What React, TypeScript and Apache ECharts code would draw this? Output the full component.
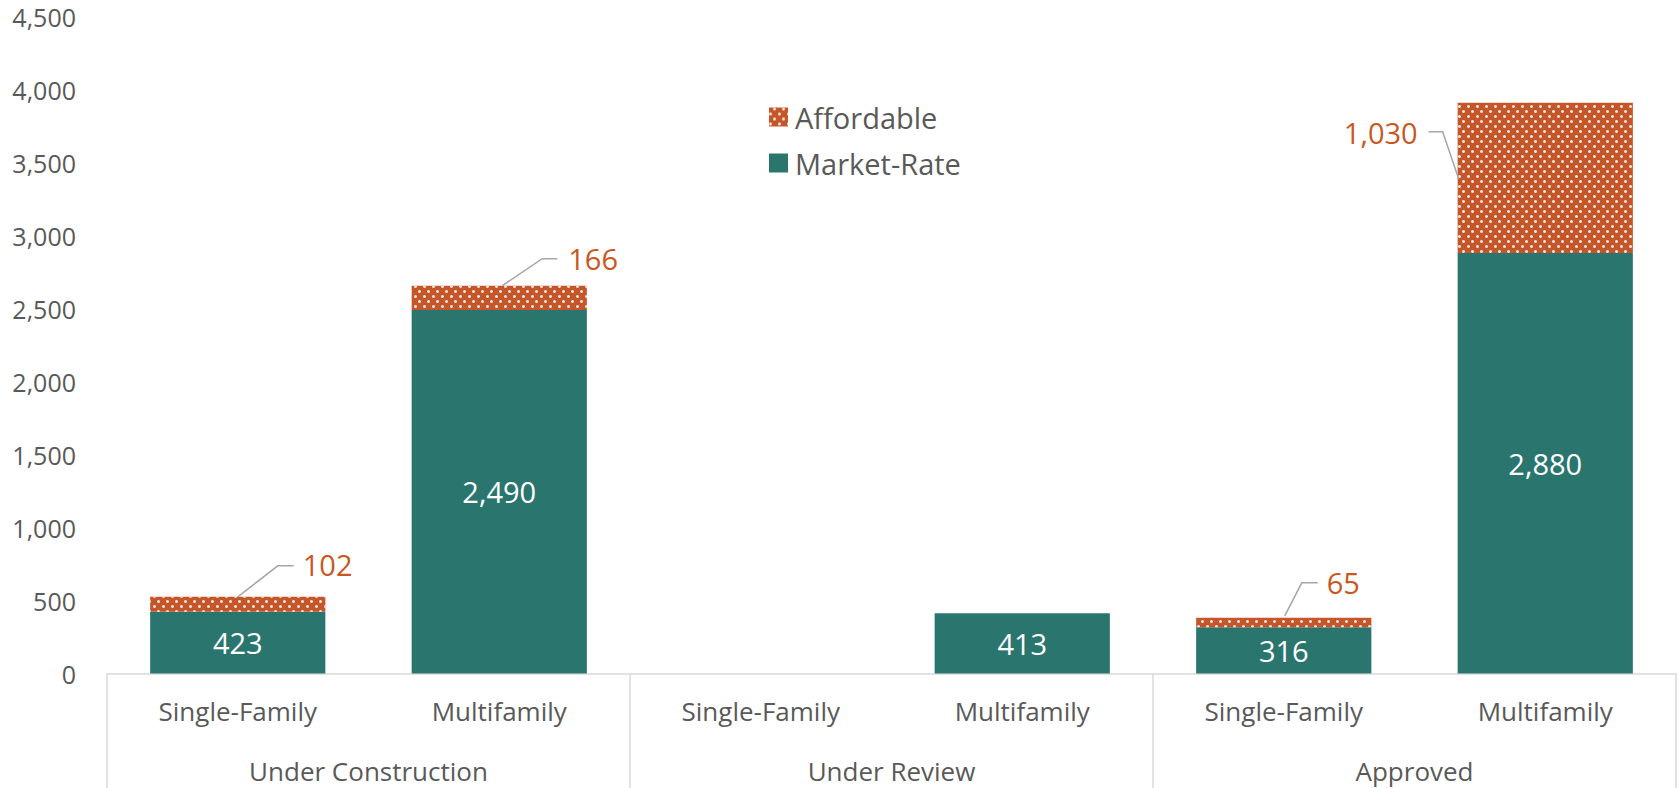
import React, { useEffect, useRef } from "react";
import * as echarts from "echarts";

const subCategories = ["Single-Family", "Multifamily", "Single-Family", "Multifamily", "Single-Family", "Multifamily"];
const groupCategories = ["Under Construction", "Under Review", "Approved"];
const marketRate = [423, 2490, 0, 413, 316, 2880];
const affordable = [102, 166, 0, 0, 65, 1030];
const yTicks = { min: 0, max: 4500, interval: 500 };

// leader-line layout for affordable labels (pixel offsets from the bar-top anchor)
const leaderLayout: any[] = [
  { anchor: "center", points: [[0, 0], [40, -31], [56, -31]], text: [65, -32], align: "left" },
  { anchor: "center", points: [[3, 0], [43, -27], [58, -27]], text: [69, -27], align: "left" },
  null,
  null,
  { anchor: "center", points: [[1, -2], [18, -35], [34, -35]], text: [43, -35], align: "left" },
  { anchor: "left", points: [[1, 76], [-15, 29], [-29, 29]], text: [-40, 30], align: "right" },
];

const TEAL = "#2A766F";
const ORANGE = "#C5562A";
const LABEL_ORANGE = "#C8581F";
const GRAY_TEXT = "#595959";
const AXIS_GRAY = "#D9D9D9";
const FONT = "'Open Sans', 'Noto Sans', sans-serif";
const BAR_GAP = 0.33;

const fmt = (v: number) => v.toLocaleString("en-US");

export default function App() {
  const ref = useRef<HTMLDivElement>(null);
  useEffect(() => {
    if (!ref.current) return;
    const chart = echarts.init(ref.current, undefined, { renderer: "svg" });
    const leaderData = subCategories.map((_, i) => [i, marketRate[i] + affordable[i], affordable[i]]);
    chart.setOption({
      animation: false,
      textStyle: { fontFamily: FONT },
      grid: { left: 107, right: 3, top: 16.5, bottom: 114.5, containLabel: false },
      legend: {
        orient: "vertical",
        left: 764,
        top: 97,
        data: ["Affordable", "Market-Rate"],
        icon: "rect",
        itemWidth: 19,
        itemHeight: 19,
        itemGap: 16,
        textStyle: { fontSize: 29, color: GRAY_TEXT, fontFamily: FONT, lineHeight: 30, padding: [0, 0, 0, 2] },
      },
      xAxis: [
        {
          type: "category",
          data: subCategories,
          position: "bottom",
          axisLine: { show: true, lineStyle: { color: AXIS_GRAY, width: 1.5 } },
          axisTick: { show: false },
          axisLabel: { fontSize: 26, color: GRAY_TEXT, fontFamily: FONT, margin: 24, interval: 0 },
        },
        {
          type: "category",
          data: groupCategories,
          position: "bottom",
          axisLine: { show: false },
          axisTick: { show: true, length: 115, lineStyle: { color: AXIS_GRAY, width: 1.5 } },
          axisLabel: { fontSize: 26, color: GRAY_TEXT, fontFamily: FONT, margin: 84, interval: 0 },
        },
      ],
      yAxis: {
        type: "value",
        min: yTicks.min,
        max: yTicks.max,
        interval: yTicks.interval,
        axisLine: { show: false },
        axisTick: { show: false },
        splitLine: { show: false },
        axisLabel: {
          fontSize: 25,
          lineHeight: 25,
          color: GRAY_TEXT,
          fontFamily: FONT,
          margin: 31,
          formatter: (v: number) => fmt(v),
        },
      },
      series: [
        {
          name: "Market-Rate",
          type: "bar",
          stack: "total",
          xAxisIndex: 0,
          barCategoryGap: `${BAR_GAP * 100}%`,
          itemStyle: { color: TEAL },
          data: marketRate.map((v) => ({
            value: v,
            label: { show: v > 0 },
          })),
          label: {
            position: "inside",
            color: "#FFFFFF",
            fontSize: 29,
            fontFamily: FONT,
            formatter: (p: any) => fmt(p.value),
          },
        },
        {
          name: "Affordable",
          type: "bar",
          stack: "total",
          xAxisIndex: 0,
          barCategoryGap: `${BAR_GAP * 100}%`,
          itemStyle: {
            color: ORANGE,
            decal: {
              symbol: "circle",
              symbolSize: 1,
              color: "rgba(255,255,255,0.85)",
              dashArrayX: [[2.5, 5.5], [0, 4, 2.5, 1.5]],
              dashArrayY: [2.5, 1.5],
              rotation: 0,
            },
          },
          label: { show: false },
          data: affordable,
        },
        {
          name: "leaders",
          type: "custom",
          xAxisIndex: 0,
          z: 10,
          silent: true,
          encode: { x: 0, y: 1 },
          data: leaderData,
          renderItem: (params: any, api: any) => {
            const idx = params.dataIndex;
            const cfg = leaderLayout[idx];
            const val = api.value(2);
            if (!cfg || !val) return { type: "group", children: [] };
            const top = api.coord([api.value(0), api.value(1)]);
            const half = (api.size([1, 0])[0] * (1 - BAR_GAP)) / 2;
            const ax = cfg.anchor === "left" ? top[0] - half : top[0];
            const ay = top[1];
            const pts = cfg.points.map((p: number[]) => [ax + p[0], ay + p[1]]);
            return {
              type: "group",
              children: [
                {
                  type: "polyline",
                  shape: { points: pts },
                  style: { stroke: "#A6A6A6", lineWidth: 1.5, fill: null },
                },
                {
                  type: "text",
                  x: ax + cfg.text[0],
                  y: ay + cfg.text[1],
                  style: {
                    text: fmt(val),
                    fill: LABEL_ORANGE,
                    fontSize: 29,
                    fontFamily: FONT,
                    align: cfg.align,
                    verticalAlign: "middle",
                  },
                },
              ],
            };
          },
        },
      ],
    });
    return () => chart.dispose();
  }, []);
  return (
    <div
      ref={ref}
      style={{ position: "absolute", left: 0, top: 0, width: 1679, height: 788, background: "#fff" }}
    />
  );
}
